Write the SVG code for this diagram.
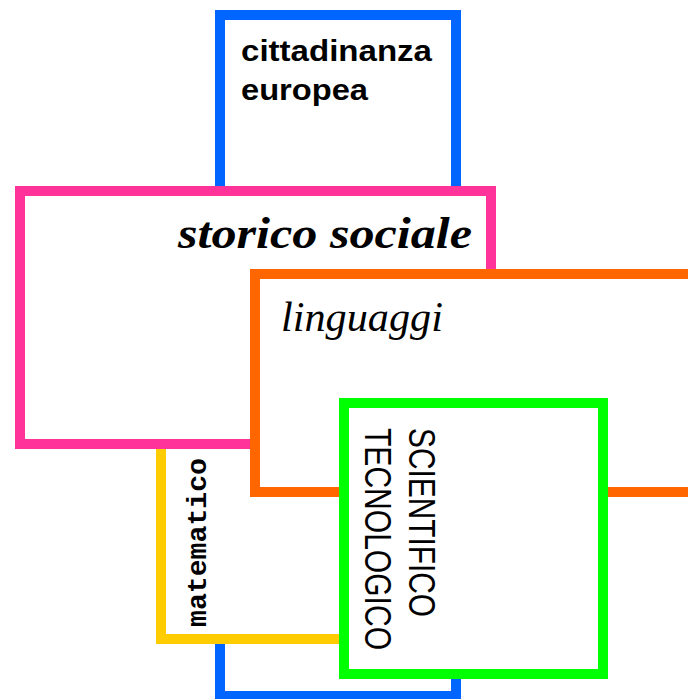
<svg xmlns="http://www.w3.org/2000/svg" width="688" height="699" viewBox="0 0 688 699">
<style>
.box{fill:#ffffff;stroke-width:10}
.t{fill:#000000}
.sans{font-family:"Liberation Sans",Arial,sans-serif;font-weight:bold}
.serif{font-family:"Liberation Serif","Times New Roman",serif}
.mono{font-family:"Liberation Mono","Courier New",monospace;font-weight:bold}
</style>
<rect width="688" height="699" fill="#ffffff"/>
<g id="cittadinanza">
<rect class="box" x="220" y="15" width="236" height="681" stroke="#0066ff"/>
<text class="t sans" x="241" y="61" font-size="29" textLength="191" lengthAdjust="spacingAndGlyphs">cittadinanza</text>
<text class="t sans" x="241" y="100" font-size="29" textLength="127" lengthAdjust="spacingAndGlyphs">europea</text>
</g>
<g id="matematico">
<rect class="box" x="161" y="444" width="190" height="195" stroke="#ffcc00"/>
<text class="t mono" transform="translate(206,627) rotate(-90)" font-size="28" textLength="169" lengthAdjust="spacingAndGlyphs">matematico</text>
</g>
<g id="storico">
<rect class="box" x="20" y="191" width="471" height="253" stroke="#ff3399"/>
<text class="t serif" x="178" y="248" font-size="45" font-weight="bold" font-style="italic" textLength="294" lengthAdjust="spacingAndGlyphs">storico sociale</text>
</g>
<g id="linguaggi">
<rect class="box" x="255" y="274" width="500" height="218" stroke="#ff6600"/>
<text class="t serif" x="281" y="331" font-size="42" font-style="italic" textLength="162" lengthAdjust="spacingAndGlyphs">linguaggi</text>
</g>
<g id="scientifico">
<rect class="box" x="344" y="403" width="259" height="271" stroke="#00ff00"/>
<text class="t" font-family="'Liberation Sans',Arial,sans-serif" transform="translate(409,428) rotate(90)" font-size="37" textLength="189" lengthAdjust="spacingAndGlyphs">SCIENTIFICO</text>
<text class="t" font-family="'Liberation Sans',Arial,sans-serif" transform="translate(365,428) rotate(90)" font-size="37" textLength="222" lengthAdjust="spacingAndGlyphs">TECNOLOGICO</text>
</g>
<g id="connectors"></g>
</svg>
